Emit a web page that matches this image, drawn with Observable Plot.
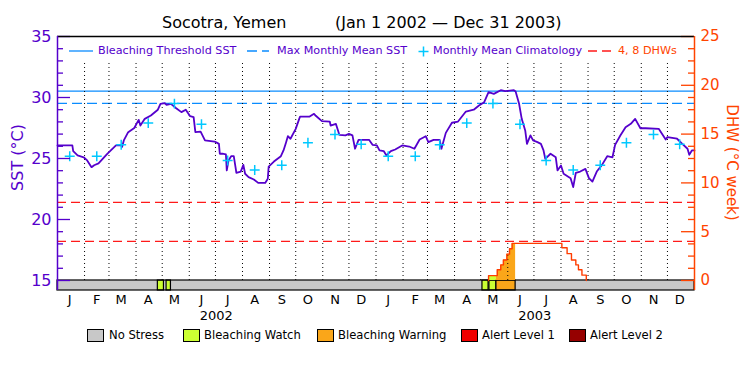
<!DOCTYPE html>
<html><head><meta charset="utf-8">
<script src="https://cdn.jsdelivr.net/npm/d3@7"></script>
<script src="https://cdn.jsdelivr.net/npm/@observablehq/plot@0.6"></script>
<style>
body{margin:0;background:#fff;font-family:"DejaVu Sans",sans-serif;}
#wrap{position:relative;width:750px;height:375px;overflow:hidden;background:#fff}
#wrap > svg{position:absolute;left:0;top:0}
.abs{position:absolute;white-space:nowrap;line-height:1;font-family:"DejaVu Sans",sans-serif}
.box{position:absolute;width:15px;height:11px;border:1px solid #000}
</style></head><body><div id="wrap"></div>
<script>
// ---------------- data ----------------
const titleText = "Socotra, Yemen";
const periodText = "(Jan 1 2002 \u2014 Dec 31 2003)";
const monthLetters = ["J","F","M","A","M","J","J","A","S","O","N","D"];
const years = [2002, 2003];
// SST, days since 2002-01-01
const sstDay = [0,17,18,23,30,34,39,42,47,57,67,73,74,76,81,88,93,95,100,107,115,118,123,125,130,136,142,147,152,156,158,164,169,180,183,185,186,189,193,194,196,199,202,204,205,210,213,215,219,225,230,238,241,242,248,256,259,262,264,267,273,277,278,289,294,296,303,312,313,319,323,330,334,338,341,345,357,361,366,369,374,377,382,387,395,403,409,415,422,425,431,438,440,445,452,459,468,477,483,489,494,500,508,513,523,525,529,532,536,538,542,545,550,554,557,559,565,571,573,577,580,588,591,594,599,605,609,613,618,624,630,636,639,645,651,657,662,668,674,689,697,699,710,716,722,724,727,730];
const sstVal = [26.07,26.07,25.6,25.25,25.1,24.84,24.29,24.45,24.6,25.38,26.07,26.07,25.95,26.48,27.16,27.5,28.17,27.7,28.25,28.52,29.0,29.48,29.53,29.4,29.48,29.12,28.8,29.0,28.47,28.39,27.16,27.2,26.48,26.39,26.28,26.2,25.39,25.39,25.33,24.02,24.84,25.19,25.19,24.29,23.83,23.93,24.48,23.75,23.47,23.28,23.0,23.0,23.34,24.34,24.75,25.19,25.66,26.34,26.83,26.62,27.43,28.25,28.44,28.44,28.66,28.5,28.06,28.03,27.7,27.84,26.94,26.89,27.02,26.89,25.8,26.53,26.53,26.12,26.07,25.66,25.6,25.25,25.6,25.74,26.07,25.98,25.8,26.56,26.83,26.34,26.53,26.53,25.8,27.1,27.93,28.03,28.85,29.0,29.34,29.62,30.44,30.3,30.6,30.52,30.6,30.5,29.48,28.25,27.3,26.2,26.89,26.48,26.34,26.2,25.66,24.97,25.39,25.1,24.02,24.43,23.75,23.39,22.66,23.83,23.93,24.15,23.39,23.11,23.93,24.48,25.19,25.1,26.12,26.89,27.57,27.84,28.25,27.48,27.48,27.43,26.56,26.75,26.62,26.2,25.8,25.3,25.66,25.66];
// monthly mean climatology (Jan..Dec)
const climVal = [25.19,25.19,26.12,27.9,29.5,27.8,24.84,24.05,24.45,26.29,26.97,26.17];
const mmmSST = 29.52;
const thresholdSST = 30.52;
const dhwLevels = [4, 8];
// Degree heating weeks, days since 2002-01-01
const dhwDay = [494,494,504,508,511,515,518,521,578,584,589,594,597,601,606];
const dhwVal = [0,0.5,1.1,1.6,2.1,2.7,3.25,3.8,3.35,2.75,2.1,1.6,1.1,0.55,0];
// Stress status periods (days since 2002-01-01); level index into statusNames
const statusStart = [115,125,487,495,503];
const statusEnd   = [122,130,494,503,525];
const statusLevel = [1,1,1,1,2];
const statusNames = ["No Stress","Bleaching Watch","Bleaching Warning","Alert Level 1","Alert Level 2"];
const statusColors = ["#c8c8c8","#ccff33","#faa619","#f00000","#960000"];
const sstMajor = [15,20,25,30,35];
const dhwMajor = [0,5,10,15,20,25];
const topLegend = ["Bleaching Threshold SST","Max Monthly Mean SST","Monthly Mean Climatology","4, 8 DHWs"];
const sstAxisTitle = "SST (\u00b0C)";
const dhwAxisTitle = "DHW (\u00b0C week)";

// ---------------- helpers ----------------
const purple = "#5500cc", orange = "#ff4400", blue = "#0a8cff", cyan = "#00c8ff", red = "#ff1a1a", dhwLine = "#ff3c00";
const t0 = new Date(Date.UTC(2002,0,1));
const dayDate = d => d3.utcDay.offset(t0, d);
const xDomain = [t0, new Date(Date.UTC(2004,0,1))];
const yMin = 14.18;
const dhwToSst = v => 15 + v * 20 / 25;

const sst = sstDay.map((d,i) => ({date: dayDate(d), v: sstVal[i]}));
const clim = years.flatMap(y => climVal.map((v,m) => ({date: new Date(Date.UTC(y,m,15)), v})));
const dhw = dhwDay.map((d,i) => ({date: dayDate(d), v: dhwVal[i]}));
const dhwAt = d => { let v = 0; dhwDay.forEach((dd,i) => { if (dd <= d) v = dhwVal[i]; }); return v; };
const status = statusStart.map((s,i) => ({x1: dayDate(s), x2: dayDate(statusEnd[i]), level: statusLevel[i]}));
const dhwFill = [];
statusStart.forEach((s,i) => {
  d3.range(s, statusEnd[i] + 1).forEach(d => {
    if (d >= dhwDay[0]) dhwFill.push({date: dayDate(d), v: dhwAt(d), seg: i, color: statusColors[statusLevel[i]]});
  });
});
const monthStarts = d3.utcMonth.range(new Date(Date.UTC(2002,1,1)), xDomain[1]);
const midMonths = years.flatMap(y => d3.range(12).map(m => new Date(Date.UTC(y,m,15))));
const midYears = years.map(y => new Date(Date.UTC(y,6,2)));
const sstMinor = d3.range(15,36).filter(v => !sstMajor.includes(v));
const dhwMajorSst = dhwMajor.map(dhwToSst);
const dhwMinorSst = d3.range(15,36).filter(v => !dhwMajorSst.includes(v));

const chart = Plot.plot({
  width: 750, height: 375,
  marginTop: 36, marginBottom: 85, marginLeft: 57, marginRight: 56,
  style: {fontFamily: "DejaVu Sans", fontSize: "13px", background: "transparent", overflow: "visible"},
  x: {type: "utc", domain: xDomain},
  y: {domain: [yMin, 35]},
  marks: [
    // status bar
    Plot.rect([0], {x1: () => xDomain[0], x2: () => xDomain[1], y1: yMin, y2: 15, fill: statusColors[0]}),
    Plot.rect(status, {x1: "x1", x2: "x2", y1: yMin, y2: 15, fill: d => statusColors[d.level], stroke: "black", strokeWidth: 1.2}),
    Plot.rect([0], {x1: () => xDomain[0], x2: () => xDomain[1], y1: yMin, y2: 15, fill: "none", stroke: "black", strokeWidth: 1.2}),
    // DHW fill by status
    Plot.areaY(dhwFill, {x: "date", y1: 15, y2: d => dhwToSst(d.v), z: "seg", fill: d => d.color, curve: "step-after"}),
    // reference lines
    Plot.ruleY(dhwLevels, {y: d => dhwToSst(d), stroke: red, strokeWidth: 1.3, strokeDasharray: "9,5"}),
    Plot.ruleY([mmmSST], {stroke: blue, strokeWidth: 1.3, strokeDasharray: "10,5"}),
    Plot.ruleY([thresholdSST], {stroke: blue, strokeWidth: 1.3}),
    // month dotted lines
    Plot.ruleX(monthStarts, {y1: 15, y2: 32.8, stroke: "black", strokeWidth: 1, strokeDasharray: "1,3"}),
    // DHW line
    Plot.line(dhw, {x: "date", y: d => dhwToSst(d.v), stroke: dhwLine, strokeWidth: 1.4, curve: "step-after"}),
    // SST
    Plot.line(sst, {x: "date", y: "v", stroke: purple, strokeWidth: 1.8}),
    Plot.dot(clim, {x: "date", y: "v", symbol: "plus", r: 3.3, stroke: cyan, strokeWidth: 1.5}),
    // ticks
    Plot.tickY(sstMajor, {y: d => d, stroke: purple, insetRight: 624, strokeWidth: 1.3}),
    Plot.tickY(sstMinor, {y: d => d, stroke: purple, insetRight: 631, strokeWidth: 1.3}),
    Plot.tickY(dhwMajorSst, {y: d => d, stroke: orange, insetLeft: 624, strokeWidth: 1.3}),
    Plot.tickY(dhwMinorSst, {y: d => d, stroke: orange, insetLeft: 631, strokeWidth: 1.3}),
    // axis lines / frame
    Plot.ruleY([35], {stroke: "black", strokeWidth: 1.3}),
    Plot.ruleX([xDomain[0]], {stroke: purple, strokeWidth: 1.5}),
    Plot.ruleX([xDomain[1]], {stroke: orange, strokeWidth: 1.5}),
    // axis labels
    Plot.axisY(sstMajor, {anchor: "left", tickSize: 0, tickPadding: 6, fontSize: 16, color: purple, label: null}),
    Plot.axisY(dhwMajorSst, {anchor: "right", tickSize: 0, tickPadding: 6, fontSize: 15, color: orange, label: null, tickFormat: (d, i) => `${dhwMajor[i]}`}),
    Plot.axisX(midMonths, {anchor: "bottom", tickSize: 0, tickPadding: 4, fontSize: 13, color: "black", label: null, tickFormat: d => monthLetters[d.getUTCMonth()]}),
    Plot.axisX(midYears, {anchor: "bottom", tickSize: 0, tickPadding: 20, fontSize: 13, color: "black", label: null, tickFormat: d => `${d.getUTCFullYear()}`}),
    Plot.text([sstAxisTitle], {text: d => d, frameAnchor: "left", textAnchor: "middle", dx: -40, dy: -6, rotate: -90, fill: purple, fontSize: 16}),
    Plot.text([dhwAxisTitle], {text: d => d, frameAnchor: "right", textAnchor: "middle", dx: 37, dy: -1, rotate: 90, fill: orange, fontSize: 15})
  ]
});
const wrap = document.getElementById("wrap");
wrap.appendChild(chart);

// ---------------- title & legends ----------------
function addText(txt, left, center, size, color) {
  const el = document.createElement("div");
  el.className = "abs";
  el.textContent = txt;
  el.style.left = left + "px";
  el.style.top = (center - 0.48 * size) + "px";
  el.style.fontSize = size + "px";
  el.style.color = color;
  wrap.appendChild(el);
}
function addSvg(left, top, w, h, inner) {
  const el = document.createElementNS("http://www.w3.org/2000/svg", "svg");
  el.setAttribute("width", w); el.setAttribute("height", h);
  el.style.position = "absolute"; el.style.left = left + "px"; el.style.top = top + "px";
  el.innerHTML = inner;
  wrap.appendChild(el);
}
addText(titleText, 162, 23, 16, "#000");
addText(periodText, 335, 23, 16, "#000");

const ly = 50.5;
addSvg(69, ly - 3, 24, 6, `<line x1="0" x2="24" y1="3" y2="3" stroke="${blue}" stroke-width="1.3"/>`);
addText(topLegend[0], 98, ly, 11.2, purple);
addSvg(247, ly - 3, 22, 6, `<line x1="0" x2="22" y1="3" y2="3" stroke="${blue}" stroke-width="1.3" stroke-dasharray="10,5"/>`);
addText(topLegend[1], 277, ly, 11.2, purple);
addSvg(418, ly - 5, 11, 11, `<path d="M0.5,5.5H10.5M5.5,0.5V10.5" stroke="${cyan}" stroke-width="1.5"/>`);
addText(topLegend[2], 433, ly, 11.2, purple);
addSvg(588, ly - 3, 25, 6, `<line x1="0" x2="25" y1="3" y2="3" stroke="${red}" stroke-width="1.3" stroke-dasharray="9,5"/>`);
addText(topLegend[3], 618, ly, 11.2, orange);

const boxLeft = [87, 183, 317, 461, 569];
const textLeft = [109, 204, 338, 482, 590];
statusNames.forEach((n, i) => {
  const b = document.createElement("div");
  b.className = "box";
  b.style.left = boxLeft[i] + "px"; b.style.top = "329px";
  b.style.background = statusColors[i];
  wrap.appendChild(b);
  addText(n, textLeft[i], 335.5, 11.6, "#000");
});
</script></body></html>
